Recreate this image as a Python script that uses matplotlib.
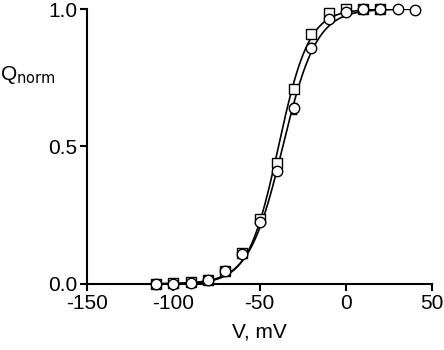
import numpy as np
import matplotlib.pyplot as plt

plt.rcParams['font.family'] = ['Liberation Sans', 'DejaVu Sans']
plt.rcParams['axes.unicode_minus'] = False

# voltages (mV)
v_sq = [-110, -100, -90, -80, -70, -60, -50, -40, -30, -20, -10, 0, 10, 20]
q_sq = [0.0, 0.002, 0.005, 0.015, 0.047, 0.113, 0.236, 0.44, 0.71, 0.91, 0.985, 1.0, 1.0, 1.0]
e_sq = [0.003, 0.003, 0.004, 0.006, 0.008, 0.01, 0.012, 0.012, 0.014, 0.01, 0.006, 0.004, 0.003, 0.003]

v_ci = [-110, -100, -90, -80, -70, -60, -50, -40, -30, -20, -10, 0, 10, 20, 30, 40]
q_ci = [0.0, 0.0, 0.003, 0.013, 0.045, 0.11, 0.225, 0.41, 0.64, 0.86, 0.965, 0.99, 1.0, 1.0, 1.0, 0.995]
e_ci = [0.003, 0.003, 0.004, 0.006, 0.008, 0.01, 0.012, 0.014, 0.02, 0.016, 0.01, 0.006, 0.004, 0.003, 0.003, 0.003]

# boltzmann fit parameters (V half, slope)
fit_sq = (-39.0, 8.8)
fit_ci = (-36.5, 9.8)

def boltz(v, vh, k):
    return 1.0 / (1.0 + np.exp(-(v - vh) / k))

fig = plt.figure(figsize=(4.44, 3.5), dpi=100)
ax = fig.add_axes([0.196, 0.189, 0.777, 0.785])

vv = np.linspace(-110, 40, 400)
ax.plot(vv, boltz(vv, *fit_sq), 'k-', lw=1.2)
ax.plot(vv, boltz(vv, *fit_ci), 'k-', lw=1.2)

ax.errorbar(v_sq, q_sq, yerr=e_sq, fmt='s', mfc='white', mec='k', ecolor='k',
            ms=6.5, mew=1.0, capsize=2, elinewidth=0.8, clip_on=False, zorder=3)
ax.errorbar(v_ci, q_ci, yerr=e_ci, fmt='o', mfc='white', mec='k', ecolor='k',
            ms=7.5, mew=1.0, capsize=2, elinewidth=0.8, clip_on=False, zorder=4)

ax.set_xlim(-150, 50)
ax.set_ylim(0, 1.0)
ax.set_xticks([-150, -100, -50, 0, 50])
ax.set_yticks([0, 0.5, 1.0])
ax.set_yticklabels(['0.0', '0.5', '1.0'])
for s in ['top', 'right']:
    ax.spines[s].set_visible(False)
for s in ['left', 'bottom']:
    ax.spines[s].set_linewidth(1.5)
ax.tick_params(direction='out', length=5, width=1.5, labelsize=15, pad=2)

ax.set_xlabel('V, mV', fontsize=15, labelpad=7)
fig.text(0.0, 0.785, r'Q$_{\mathrm{norm}}$', fontsize=15, ha='left', va='center')

fig.savefig('out.png', dpi=100)
